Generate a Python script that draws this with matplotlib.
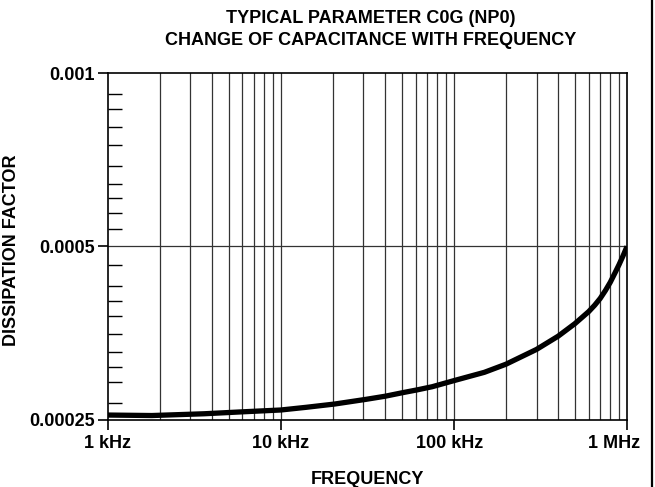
import matplotlib
matplotlib.use('Agg')
import matplotlib.pyplot as plt
import matplotlib.transforms as mtransforms
from matplotlib.lines import Line2D
from matplotlib.ticker import FixedLocator, NullFormatter, NullLocator

plt.rcParams['font.family'] = ['Liberation Sans', 'DejaVu Sans']
plt.rcParams['font.weight'] = 'bold'

# Data (frequency in Hz, dissipation factor)
freq_hz = [1e3, 1.8e3, 3.6e3, 6e3, 1e4, 1.4e4, 2.05e4, 3.1e4, 4e4, 5.1e4, 6.1e4,
           7.5e4, 1e5, 1.5e5, 2e5, 3e5, 4e5, 5e5, 6e5, 6.5e5, 7e5, 7.5e5, 8e5,
           8.5e5, 9e5, 9.5e5, 1e6]
dissipation = [0.0002545, 0.000254, 0.0002558, 0.0002578, 0.0002597, 0.0002625,
               0.000266, 0.000271, 0.0002744, 0.0002785, 0.0002814, 0.0002851,
               0.0002921, 0.000302, 0.000312, 0.000331, 0.000349, 0.000367,
               0.000385, 0.000395, 0.000406, 0.000419, 0.000433, 0.000449,
               0.000465, 0.000482, 0.0005]

x_ticks = [1e3, 1e4, 1e5, 1e6]
x_tick_labels = ['1 kHz', '10 kHz', '100 kHz', '1 MHz']
y_ticks = [0.00025, 0.0005, 0.001]
y_tick_labels = ['0.00025', '0.0005', '0.001']
y_minor_ticks = [0.000267, 0.000291, 0.000309, 0.000328, 0.000352, 0.000379,
                 0.000402, 0.000426, 0.000465,
                 0.000537, 0.000571, 0.000606, 0.000643, 0.00069, 0.000751,
                 0.000808, 0.000868, 0.000922]

FS = 13

fig = plt.figure(figsize=(6.55, 4.87), dpi=100)
ax = fig.add_axes([0.1644, 0.1386, 0.9573 - 0.1644, 0.8495 - 0.1386])

ax.set_xscale('log')
ax.set_yscale('log')
ax.set_xlim(1e3, 1e6)
ax.set_ylim(0.00025, 0.001)

# vertical grid at 1..9 per decade
grid_x = [m * 10 ** d for d in range(3, 6) for m in range(1, 10)][1:]
for gx in grid_x:
    ax.axvline(gx, color='#333333', lw=0.9, zorder=1)
ax.axhline(0.0005, color='#333333', lw=0.9, zorder=1)

ax.plot(freq_hz, dissipation, color='black', lw=3.8, solid_capstyle='butt',
        solid_joinstyle='round', zorder=3)

ax.xaxis.set_major_locator(FixedLocator(x_ticks))
ax.set_xticklabels(x_tick_labels)
ax.xaxis.set_minor_locator(NullLocator())
ax.xaxis.set_minor_formatter(NullFormatter())
ax.yaxis.set_major_locator(FixedLocator(y_ticks))
ax.set_yticklabels(y_tick_labels)
ax.yaxis.set_minor_locator(FixedLocator(y_minor_ticks))
ax.yaxis.set_minor_formatter(NullFormatter())

ax.tick_params(axis='both', which='major', direction='out', length=7, width=1.2,
               labelsize=FS, pad=2, colors='black')
ax.tick_params(axis='x', which='major', pad=4)
ax.tick_params(axis='y', which='minor', direction='in', length=10, width=1.0)
for lab in ax.get_xticklabels() + ax.get_yticklabels():
    lab.set_fontweight('bold')

# the last two frequency labels sit a bit left of their ticks
shifts = [0, 0, -4, -13]
for lab, dx in zip(ax.get_xticklabels(), shifts):
    offset = mtransforms.ScaledTranslation(dx / 100, 0, fig.dpi_scale_trans)
    lab.set_transform(lab.get_transform() + offset)

for sp in ax.spines.values():
    sp.set_linewidth(1.2)
    sp.set_color('black')

ax.set_xlabel('FREQUENCY', fontsize=FS, fontweight='bold', labelpad=14)
ax.set_ylabel('DISSIPATION FACTOR', fontsize=FS, fontweight='bold')
ax.yaxis.set_label_coords(-0.169, 0.49)

fig.text(0.566, 0.962, 'TYPICAL PARAMETER C0G (NP0)', ha='center', va='center',
         fontsize=FS, fontweight='bold')
fig.text(0.566, 0.917, 'CHANGE OF CAPACITANCE WITH FREQUENCY', ha='center',
         va='center', fontsize=FS, fontweight='bold')

# right border of the figure
fig.add_artist(Line2D([0.9947, 0.9947], [0, 1], color='black', lw=1.6,
                      transform=fig.transFigure))

fig.savefig('out.png', dpi=100)
